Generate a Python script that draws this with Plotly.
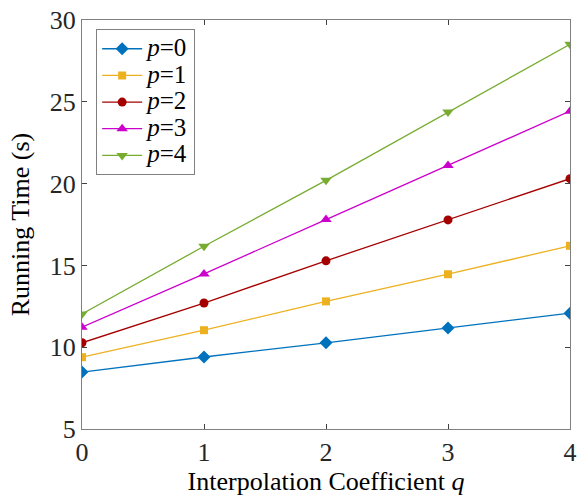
import plotly.graph_objects as go

q = [0, 1, 2, 3, 4]
p0 = [8.48, 9.40, 10.27, 11.18, 12.08]
p1 = [9.39, 11.04, 12.80, 14.46, 16.20]
p2 = [10.27, 12.70, 15.28, 17.78, 20.30]
p3 = [11.22, 14.48, 17.80, 21.10, 24.43]
p4 = [12.03, 16.17, 20.20, 24.38, 28.52]

labels = ["0", "1", "2", "3", "4"]
colors = ["#0072BD", "#EDB120", "#A50000", "#CC00CC", "#77AC30"]
symbols = ["diamond", "square", "circle", "triangle-up", "triangle-down"]
sizes = [10, 8, 9, 10, 10]

fig = go.Figure()
for lab, ys, col, sym, sz in zip(labels, [p0, p1, p2, p3, p4], colors, symbols, sizes):
    fig.add_trace(go.Scatter(
        x=q, y=ys,
        name='<span style="font-size:25px"><i>p</i>=' + lab + '</span>',
        mode="lines+markers",
        line=dict(color=col, width=1.3),
        marker=dict(symbol=sym, size=sz, color=col),
    ))

font_family = "Liberation Serif, Times New Roman, serif"
axis_common = dict(
    showline=True, linecolor="#808080", linewidth=1.2, mirror="ticks",
    ticks="inside", ticklen=5, tickcolor="#404040", tickwidth=1,
    showgrid=False, zeroline=False,
    tickfont=dict(family=font_family, size=26, color="#262626"),
)

fig.update_layout(
    width=583, height=499,
    margin=dict(l=82, r=6, t=16, b=70),
    paper_bgcolor="white", plot_bgcolor="white",
    font=dict(family=font_family, color="#262626"),
    xaxis=dict(range=[0, 4], tickvals=q,
               title=dict(text="Interpolation Coefficient <i>q</i>",
                          font=dict(family=font_family, size=26, color="#000000"), standoff=2),
               **axis_common),
    yaxis=dict(range=[5, 30], tickvals=[5, 10, 15, 20, 25, 30],
               title=dict(text="Running Time (s)",
                          font=dict(family=font_family, size=26, color="#000000"), standoff=12),
               **axis_common),
    legend=dict(x=0.029, y=0.977, xanchor="left", yanchor="top",
                bgcolor="white", bordercolor="#808080", borderwidth=1,
                font=dict(family=font_family, size=18.2, color="#000000"),
                itemwidth=40, tracegroupgap=0),
    showlegend=True,
)

fig.write_html("out.html")
